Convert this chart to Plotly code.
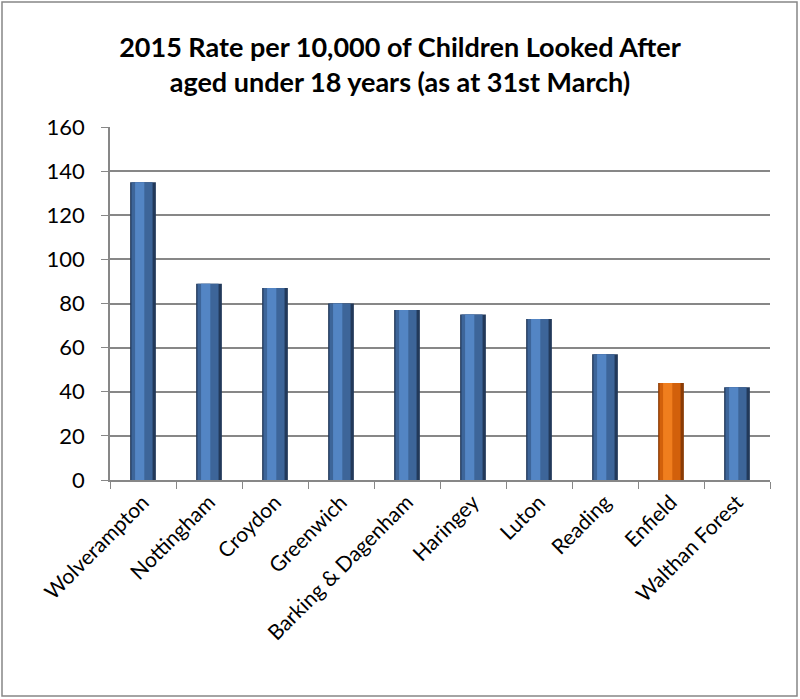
import plotly.graph_objects as go

categories = ["Wolverampton", "Nottingham", "Croydon", "Greenwich", "Barking & Dagenham",
              "Haringey", "Luton", "Reading", "Enfield", "Walthan Forest"]
values = [135, 89, 87, 80, 77, 75, 73, 57, 44, 42]
highlight = "Enfield"
y_ticks = [0, 20, 40, 60, 80, 100, 120, 140, 160]

# colour layers (outer dark -> inner light) for normal and highlighted bars
blue_layers = ["#22395a", "#3d6599", "#5385c4"]
orange_layers = ["#8a3b05", "#d2600b", "#f07e1e"]
widths = [0.39, 0.32, 0.14]
offsets = [-0.195, -0.175, -0.12]

fig = go.Figure()
for i in range(3):
    cols = [orange_layers[i] if c == highlight else blue_layers[i] for c in categories]
    fig.add_trace(go.Bar(
        x=categories, y=values, width=widths[i], offset=offsets[i],
        marker=dict(color=cols, line=dict(width=0)),
        hoverinfo="x+y", showlegend=False,
    ))

fig.update_layout(
    barmode="overlay",
    width=800, height=699,
    margin=dict(l=110, r=30, t=127, b=219),
    paper_bgcolor="white", plot_bgcolor="white",
    font=dict(family="Lato, Open Sans, sans-serif", color="black"),
    title=dict(
        text="<b>2015 Rate per 10,000 of Children Looked After<br>aged under 18 years (as at 31st March)</b>",
        x=0.5, xanchor="center", xref="container",
        y=1 - 57 / 699, yanchor="top", yref="container",
        font=dict(size=27, family="Lato, Open Sans, sans-serif", color="black"),
    ),
    xaxis=dict(
        type="category", tickangle=-45, tickfont=dict(size=21),
        showline=True, linecolor="#878787", linewidth=1.5,
        ticks="outside", tickson="boundaries", ticklen=7, tickcolor="#878787",
        showgrid=False,
    ),
    yaxis=dict(
        range=[0, 160], tickvals=y_ticks, tickfont=dict(size=22),
        showline=True, linecolor="#878787", linewidth=1.5,
        ticks="outside", ticklen=7, tickcolor="#878787",
        ticklabelstandoff=12,
        showgrid=True, gridcolor="#878787", gridwidth=1.5,
        zeroline=False,
    ),
    shapes=[dict(
        type="rect", xref="paper", yref="paper",
        x0=(2 - 110) / 660, x1=(797 - 110) / 660,
        y0=(480 - 696) / 353, y1=(480 - 2) / 353,
        line=dict(color="#878787", width=1.5), fillcolor="rgba(0,0,0,0)",
    )],
)

fig.write_html("out.html")
